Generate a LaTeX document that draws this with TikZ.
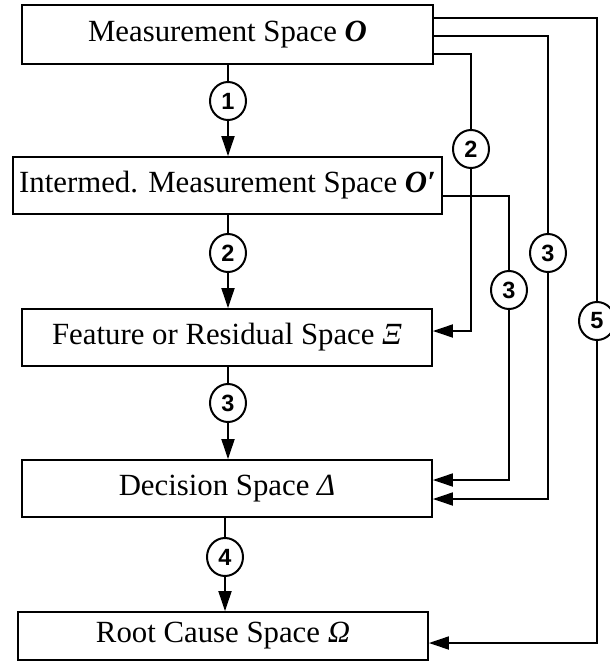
\documentclass[tikz,border=0pt]{standalone}
\usepackage{fontspec}
\setmainfont{Liberation Serif}
\newfontfamily\numfont{Liberation Sans}
\usetikzlibrary{arrows.meta,shapes.geometric}

\tikzset{
  space/.style={draw, line width=1.8pt, inner sep=0pt, anchor=center,
    font=\fontsize{30.8}{36}\selectfont},
  stepnum/.style={draw, ellipse, line width=2pt, fill=white, inner sep=0pt,
    minimum width=36pt, minimum height=38pt,
    font=\numfont\bfseries\fontsize{23.5}{23.5}\selectfont},
  conn/.style={line width=1.8pt},
  arr/.style={conn, -{Triangle[length=20pt,width=13pt]}}
}

\begin{document}
\begin{tikzpicture}[x=1pt,y=-1pt]
\useasboundingbox (0,0) rectangle (610,661);

% the five spaces
\node[space, minimum width=411pt, minimum height=59pt] (O)  at (227.5,34.5) {Measurement Space \textbf{\textit{O}}};
\node[space, minimum width=429pt, minimum height=57pt] (Op) at (227.5,185.5) {Intermed. Measurement Space \textbf{\textit{O′}}};
\node[space, minimum width=410pt, minimum height=57pt] (Xi) at (227,337.5) {Feature or Residual Space \textit{Ξ}};
\node[space, minimum width=410pt, minimum height=57pt] (De) at (227,488.5) {Decision Space \textit{Δ}};
\node[space, minimum width=410pt, minimum height=48pt] (Om) at (223,636) {Root Cause Space \textit{Ω}};

% step markers on the main chain
\node[stepnum] (c1) at (228,101) {1};
\node[stepnum] (c2) at (228,253) {2};
\node[stepnum] (c3) at (228,403) {3};
\node[stepnum] (c4) at (225,557) {4};

% step markers on the bypass routes
\node[stepnum] (r2)  at (471,149) {2};
\node[stepnum] (r3b) at (509,290) {3};
\node[stepnum] (r3a) at (548,253) {3};
\node[stepnum] (r5)  at (597,321) {5};

% main chain
\draw[conn] (c1 |- O.south) -- (c1.north);
\draw[arr]  (c1.south) -- (c1 |- Op.north);
\draw[conn] (c2 |- Op.south) -- (c2.north);
\draw[arr]  (c2.south) -- (c2 |- Xi.north);
\draw[conn] (c3 |- Xi.south) -- (c3.north);
\draw[arr]  (c3.south) -- (c3 |- De.north);
\draw[conn] (c4 |- De.south) -- (c4.north);
\draw[arr]  (c4.south) -- (c4 |- Om.north);

% bypass route corners
\coordinate (t5)  at (597,18);
\coordinate (b5)  at (597,643);
\coordinate (t3a) at (548,36);
\coordinate (b3a) at (548,499);
\coordinate (t2)  at (471,54);
\coordinate (b2)  at (471,331);
\coordinate (t3b) at (509,196);
\coordinate (b3b) at (509,480);

% O -> Omega
\draw[conn] (O.east |- t5) -- (t5) -- (r5.north);
\draw[arr]  (r5.south) -- (b5) -- (Om.east |- b5);
% O -> Delta
\draw[conn] (O.east |- t3a) -- (t3a) -- (r3a.north);
\draw[arr]  (r3a.south) -- (b3a) -- (De.east |- b3a);
% O -> Xi
\draw[conn] (O.east |- t2) -- (t2) -- (r2.north);
\draw[arr]  (r2.south) -- (b2) -- (Xi.east |- b2);
% O' -> Delta
\draw[conn] (Op.east |- t3b) -- (t3b) -- (r3b.north);
\draw[arr]  (r3b.south) -- (b3b) -- (De.east |- b3b);
\end{tikzpicture}
\end{document}
